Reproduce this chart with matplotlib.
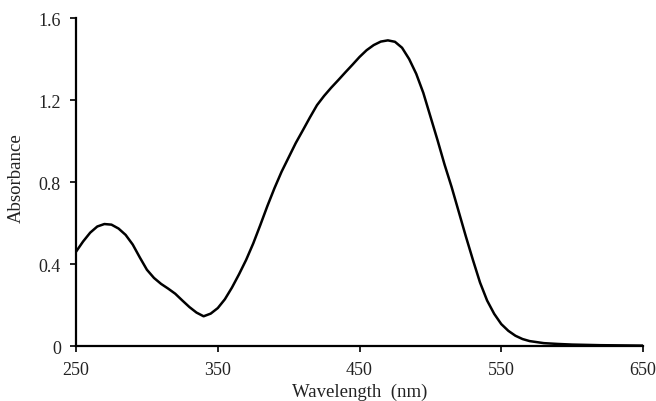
import matplotlib
matplotlib.use("Agg")
import matplotlib.pyplot as plt

# absorption spectrum
wavelength = [250, 255, 260, 265, 270, 275, 280, 285, 290, 295,
              300, 305, 310, 315, 320, 325, 330, 335, 340, 345,
              350, 355, 360, 365, 370, 375, 380, 385, 390, 395,
              400, 405, 410, 415, 420, 425, 430, 435, 440, 445,
              450, 455, 460, 465, 470, 475, 480, 485, 490, 495,
              500, 505, 510, 515, 520, 525, 530, 535, 540, 545,
              550, 555, 560, 565, 570, 580, 590, 600, 620, 650]
absorbance = [0.46, 0.51, 0.553, 0.583, 0.595, 0.592, 0.573, 0.542, 0.495, 0.432,
              0.372, 0.332, 0.303, 0.28, 0.255, 0.222, 0.19, 0.163, 0.145, 0.158,
              0.185, 0.228, 0.285, 0.35, 0.42, 0.50, 0.59, 0.683, 0.77, 0.85,
              0.92, 0.99, 1.052, 1.115, 1.175, 1.22, 1.26, 1.297, 1.335, 1.372,
              1.41, 1.443, 1.468, 1.485, 1.491, 1.484, 1.455, 1.40, 1.328, 1.235,
              1.12, 1.005, 0.885, 0.775, 0.655, 0.535, 0.42, 0.31, 0.222, 0.157,
              0.107, 0.074, 0.05, 0.034, 0.024, 0.014, 0.01, 0.007, 0.004, 0.002]

x_ticks = [250, 350, 450, 550, 650]
y_ticks = [0, 0.4, 0.8, 1.2, 1.6]
y_tick_labels = ["0", "0.4", "0.8", "1.2", "1.6"]

plt.rcParams['font.family'] = ['Liberation Serif', 'DejaVu Serif']

fig = plt.figure(figsize=(6.56, 4.02), dpi=100)
ax = fig.add_axes([0.1159, 0.1368, 0.8643, 0.8159])

ax.plot(wavelength, absorbance, color='black', lw=1.8,
        solid_capstyle='round', solid_joinstyle='round')

ax.set_xlim(250, 650)
ax.set_ylim(0, 1.6)
ax.set_xticks(x_ticks)
ax.set_yticks(y_ticks)
ax.set_yticklabels(y_tick_labels)

for side in ['top', 'right']:
    ax.spines[side].set_visible(False)
for side in ['left', 'bottom']:
    ax.spines[side].set_linewidth(1.6)

ax.tick_params(direction='out', length=4, width=1.4, labelsize=13, colors='#222222')
ax.tick_params(axis='x', pad=7)
ax.tick_params(axis='y', pad=7)

ax.set_xlabel("Wavelength  (nm)", fontsize=13.5, color='#222222')
ax.set_ylabel("Absorbance", fontsize=13.5, color='#222222')
ax.xaxis.set_label_coords(0.5, -0.112)
ax.yaxis.set_label_coords(-0.09, 0.515)

fig.savefig("out.png", dpi=100)
